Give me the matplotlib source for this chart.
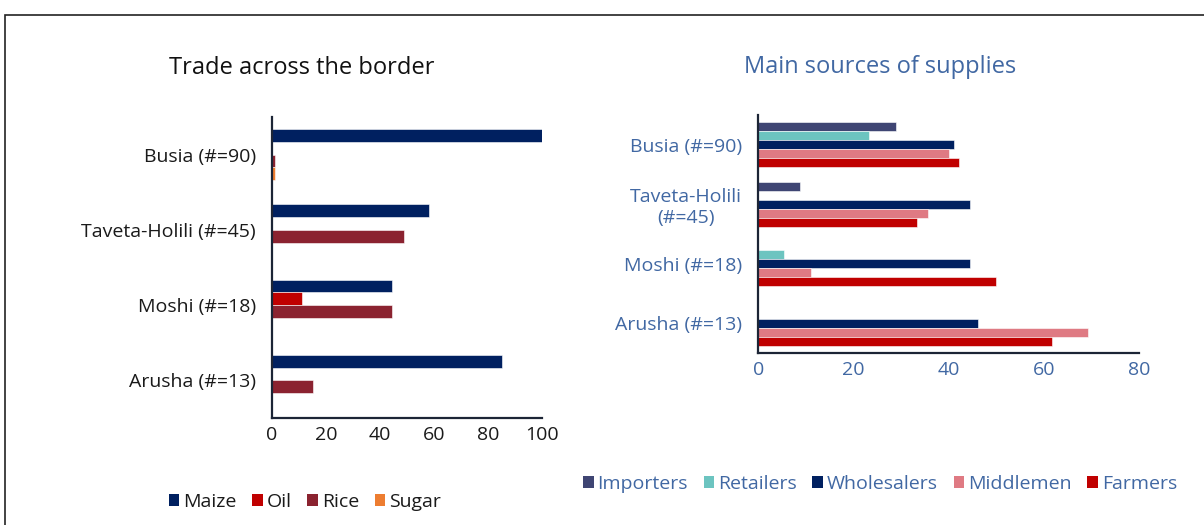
import matplotlib
matplotlib.use("Agg")
import matplotlib.pyplot as plt
from matplotlib.patches import Patch, Rectangle
import numpy as np

plt.rcParams['font.family'] = ['Open Sans', 'DejaVu Sans']

# ---- Data: left chart ----
left_categories = ["Busia (#=90)", "Taveta-Holili (#=45)", "Moshi (#=18)", "Arusha (#=13)"]
left_series = ["Maize", "Oil", "Rice", "Sugar"]
maize = [100, 58, 44.5, 85]
oil = [0, 0, 11, 0]
rice = [1, 49, 44.5, 15]
sugar = [1, 0, 0, 0]
left_ticks = [0, 20, 40, 60, 80, 100]

# ---- Data: right chart ----
right_categories = ["Busia (#=90)", "Taveta-Holili\n(#=45)", "Moshi (#=18)", "Arusha (#=13)"]
right_series = ["Importers", "Retailers", "Wholesalers", "Middlemen", "Farmers"]
importers = [29, 8.7, 0, 0]
retailers = [23.2, 0, 5.5, 0]
wholesalers = [41.1, 44.5, 44.5, 46.2]
middlemen = [40, 35.6, 11, 69.3]
farmers = [42.2, 33.3, 50, 61.6]
right_ticks = [0, 20, 40, 60, 80]

left_colors = ["#002060", "#C00000", "#8B2330", "#ED7D31"]
right_colors = ["#3F4573", "#6CC4C0", "#002060", "#DF7A83", "#C00000"]
blue_text = "#4168A3"
spine_col = "#1C2536"
FS = 14

fig = plt.figure(figsize=(12.04, 5.25), dpi=100)

# frame
fig.patches.append(Rectangle((5/1204, -0.1), 1.2, 1 - 15/525 + 0.1, transform=fig.transFigure,
                             fill=False, edgecolor="#222222", linewidth=1.2))

# ---- Left axes ----
axL = fig.add_axes([272/1204, 1 - 418/525, 270/1204, 301/525])
pos = np.arange(len(left_categories))[::-1]
hL = 0.17
left_vals = [maize, oil, rice, sugar]
for i, (vals, col) in enumerate(zip(left_vals, left_colors)):
    axL.barh(pos + (1.5 - i) * hL, vals, height=hL, color=col, edgecolor="white", linewidth=0.4)
axL.set_ylim(-0.5, len(left_categories) - 0.5)
axL.set_xlim(0, 100)
axL.set_yticks(pos)
axL.set_yticklabels(left_categories, fontsize=FS, color="#1a1a1a")
axL.set_xticks(left_ticks)
axL.set_xticklabels([str(t) for t in left_ticks], fontsize=FS, color="#1a1a1a")
axL.tick_params(axis='y', length=0, pad=11.5)
axL.tick_params(axis='x', length=0, pad=6)
for s in ["top", "right"]:
    axL.spines[s].set_visible(False)
for s in ["left", "bottom"]:
    axL.spines[s].set_color(spine_col)
    axL.spines[s].set_linewidth(1.6)
fig.text(302/1204, 1 - 68/525, "Trade across the border", fontsize=17, color="#111111",
         ha="center", va="center")

handlesL = [Patch(facecolor=c, label=l) for c, l in zip(left_colors, left_series)]
fig.legend(handles=handlesL, loc="center", bbox_to_anchor=(305/1204, 1 - 502/525), ncol=4,
           frameon=False, fontsize=FS, handlelength=0.55, handleheight=0.55, handletextpad=0.2,
           columnspacing=0.8, labelcolor="#1a1a1a")

# ---- Right axes ----
axR = fig.add_axes([758.3/1204, 1 - 353/525, 381/1204, 238/525])
posR = np.arange(len(right_categories))[::-1]
hR = 0.15
right_vals = [importers, retailers, wholesalers, middlemen, farmers]
for i, (vals, col) in enumerate(zip(right_vals, right_colors)):
    axR.barh(posR + (2 - i) * hR, vals, height=hR, color=col, edgecolor="white", linewidth=0.4)
axR.set_ylim(-0.5, len(right_categories) - 0.5)
axR.set_xlim(0, 80)
axR.set_yticks(posR)
axR.set_yticklabels(right_categories, fontsize=FS, color=blue_text, multialignment="center")
axR.set_xticks(right_ticks)
axR.set_xticklabels([str(t) for t in right_ticks], fontsize=FS, color=blue_text)
axR.tick_params(axis='y', length=0, pad=12)
axR.tick_params(axis='x', length=0, pad=6)
for s in ["top", "right"]:
    axR.spines[s].set_visible(False)
for s in ["left", "bottom"]:
    axR.spines[s].set_color(spine_col)
    axR.spines[s].set_linewidth(1.6)
fig.text(880/1204, 1 - 67/525, "Main sources of supplies", fontsize=17, color=blue_text,
         ha="center", va="center")

handlesR = [Patch(facecolor=c, label=l) for c, l in zip(right_colors, right_series)]
fig.legend(handles=handlesR, loc="center", bbox_to_anchor=(880/1204, 1 - 484/525), ncol=5,
           frameon=False, fontsize=FS, handlelength=0.55, handleheight=0.55, handletextpad=0.2,
           columnspacing=0.8, labelcolor=blue_text)

fig.savefig("out.png", dpi=100)
